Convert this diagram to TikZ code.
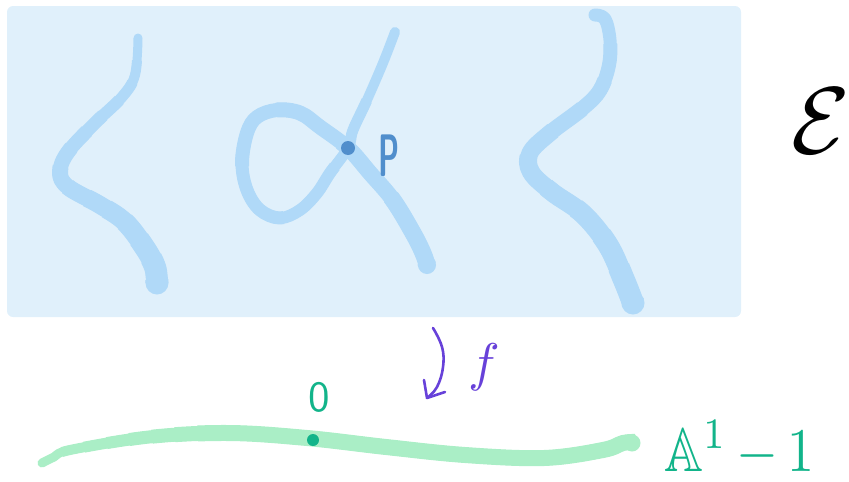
\documentclass[tikz,border=0pt]{standalone}
\usepackage{amssymb}
\definecolor{sheet}{RGB}{224,240,251}
\definecolor{curveblue}{RGB}{176,217,248}
\definecolor{pointblue}{RGB}{80,142,204}
\definecolor{lineGreen}{RGB}{170,238,198}
\definecolor{inkteal}{RGB}{18,180,138}
\definecolor{inkviolet}{RGB}{103,65,217}
% tapered stroke: #1 colour, #2 path, #3 start width, #4 end width,
% #5 length (pt) over which the width grows
\newcommand\taperstroke[5]{%
  \draw[draw=#1, line cap=round, line join=round, line width=#3pt] #2;
  \pgfmathtruncatemacro\tpFirst{#3+1}%
  \foreach \w in {\tpFirst,...,#4} {%
    \pgfmathsetmacro\tpPhase{8000-(\w-#3)/(#4-#3)*#5}%
    \draw[draw=#1, line cap=butt, line join=round, line width=\w pt,
          dash pattern=on 4000pt off 4000pt, dash phase=\tpPhase pt] #2;
  }%
}
\begin{document}
\begin{tikzpicture}[x=1pt,y=-1pt,
  pen/.style={draw=inkviolet, line width=2.6pt, line cap=round, line join=round},
  sm/.style={smooth, tension=0.6}]
\useasboundingbox (0,0) rectangle (849,482);

% the surface E, seen as a shaded sheet
\fill[sheet, rounded corners=6pt] (7,6) rectangle (741,317);

% left fibre, widening towards its lower end
\def\leftfibre{plot[sm] coordinates {(138,38) (135,75) (122,97) (95,123) (68,152) (60,172) (68,187) (100,205) (125,222) (145,248) (155,267) (157,283)}}
\taperstroke{curveblue}{\leftfibre}{9}{23}{314}
\fill[curveblue] (157,283) circle[radius=11.5pt];

% nodal fibre with its loop
\def\nodalfibre{plot[sm] coordinates {(395,32) (383,63) (367,100) (353,130) (348,148) (330,173) (317,193) (300,210) (280,218) (260,210) (247,190) (242,163) (247,133) (257,117) (277,110) (300,113) (320,127) (348,148) (370,173) (393,200) (413,233) (423,253) (427,265)}}
\taperstroke{curveblue}{\nodalfibre}{10}{18}{593}
\fill[curveblue] (427,265) circle[radius=9pt];

% right fibre
\def\rightfibre{plot[sm] coordinates {(595,15) (605,19) (610,40) (609,65) (600,90) (583,108) (550,133) (530,153) (531,172) (552,192) (583,214) (608,245) (624,280) (633,303)}}
\taperstroke{curveblue}{\rightfibre}{13}{23}{368}
\fill[curveblue] (633,303) circle[radius=11.5pt];

% the node point P
\fill[pointblue] (348,148) circle[radius=7pt];
\node[text=pointblue, font=\sffamily\bfseries, scale=6, xscale=0.5] (P) at (389,156) {P};

% name of the surface
\node[scale=9.5] (E) at (821,121) {$\mathcal{E}$};

% the map f
\coordinate (ftop) at (433,328);
\coordinate (ftip) at (427,398);
\coordinate (fbarbL) at (424,380);
\coordinate (fbarbR) at (445,392);
\draw[pen] plot[smooth, tension=0.7] coordinates {(ftop) (442,347) (443,367) (437,387) (ftip)};
\draw[pen] (fbarbL) -- (ftip) -- (fbarbR);
\node[text=inkviolet, scale=5.3] (f) at (484,367) {$f$};

% the base line
\def\baseline{plot[sm] coordinates {(42,463) (54,457) (70,450) (149,437) (228,433) (307,438) (386,447) (465,455) (544,458) (603,450) (623,443) (635,442)}}
\taperstroke{lineGreen}{\baseline}{9}{16}{160}
\fill[lineGreen] (632,443) circle[radius=8.5pt];

% the origin on the base
\fill[inkteal] (313,440) circle[radius=6pt];
\node[text=inkteal, font=\sffamily, scale=4.3] (zero) at (319,397) {0};

% name of the base
\node[text=inkteal, scale=6.2, xscale=0.87, anchor=base west, inner sep=0pt] (base) at (663,471) {$\mathbb{A}^{1}\,{-}\,1$};
\end{tikzpicture}
\end{document}
